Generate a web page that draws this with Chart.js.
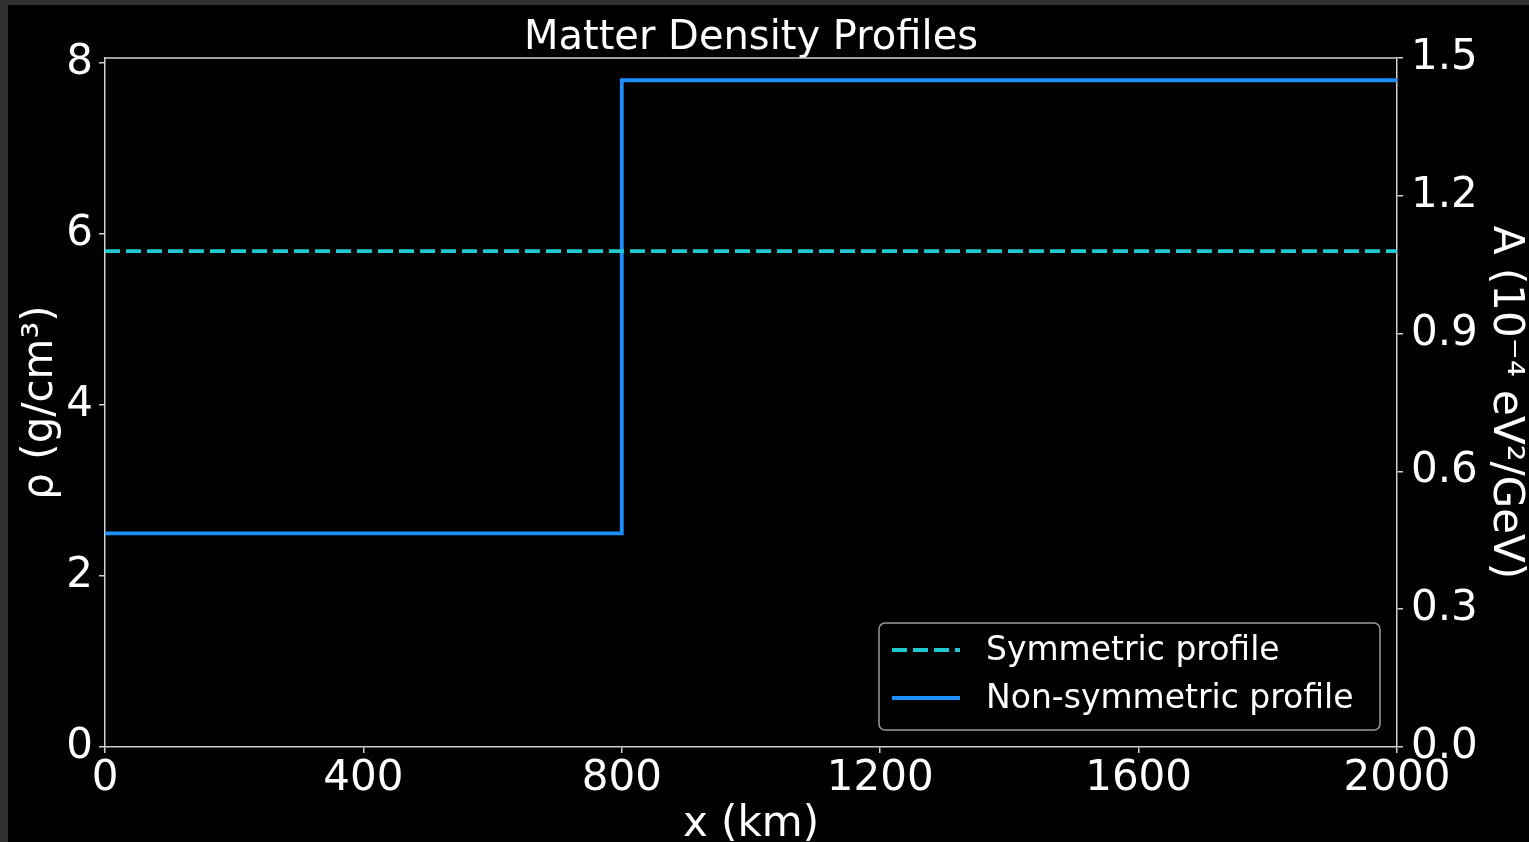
<!DOCTYPE html>
<html>
<head>
<meta charset="utf-8">
<title>Matter Density Profiles</title>
<script src="https://cdn.jsdelivr.net/npm/chart.js@4.4.1/dist/chart.umd.min.js"></script>
<style>
  html, body { margin: 0; padding: 0; background: #303030; overflow: hidden; }
  #wrap { position: absolute; left: 8px; top: 5px; width: 1521px; height: 837px; background: #000; }
</style>
</head>
<body>
<div id="wrap"><canvas id="profiles"></canvas></div>
<script>
// data
const symX = [0, 2000];
const symRho = [5.8, 5.8];
const nonSymX = [0, 800, 800, 2000];
const nonSymRho = [2.5, 2.5, 7.8, 7.8];

const xTicks = [0, 400, 800, 1200, 1600, 2000];
const rhoTicks = [0, 2, 4, 6, 8];
const aTicks = [0, 0.3, 0.6, 0.9, 1.2, 1.5];
const rhoMax = 8.06;   // left axis runs a bit past 8 so that it lines up with A = 1.5
const aMax = 1.5;

const FONT = 'DejaVu Sans';
const TICK_SIZE = 42;
const symColor = '#20c9d0';
const nonSymColor = '#1e8fff';
const spineColor = '#d0d0d0';

function toPoints(xs, ys) {
    return xs.map((x, i) => ({ x: x, y: ys[i] }));
}

function fixedTicks(values) {
    return function (scale) {
        scale.ticks = values.map(v => ({ value: v }));
    };
}

// top spine + legend box drawn inside the plot like matplotlib does
const frameAndLegend = {
    id: 'frameAndLegend',
    afterDraw(chart) {
        const ctx = chart.ctx;
        const area = chart.chartArea;
        ctx.save();
        ctx.strokeStyle = spineColor;
        ctx.lineWidth = 1.5;
        ctx.beginPath();
        ctx.moveTo(area.left, area.top);
        ctx.lineTo(area.right, area.top);
        ctx.stroke();

        const w = 501, h = 107;
        const left = area.right - 17 - w;
        const top = area.bottom - 17 - h;
        ctx.fillStyle = 'rgba(0,0,0,0.8)';
        ctx.strokeStyle = '#9a9a9a';
        ctx.lineWidth = 1.5;
        ctx.beginPath();
        ctx.roundRect(left, top, w, h, 6);
        ctx.fill();
        ctx.stroke();

        ctx.font = '33px "' + FONT + '"';
        ctx.textBaseline = 'middle';
        ctx.fillStyle = '#ffffff';
        chart.data.datasets.forEach((ds, i) => {
            const y = top + 27 + i * 48;
            ctx.strokeStyle = ds.borderColor;
            ctx.lineWidth = ds.borderWidth;
            ctx.setLineDash(ds.borderDash || []);
            ctx.beginPath();
            ctx.moveTo(left + 13, y);
            ctx.lineTo(left + 81, y);
            ctx.stroke();
            ctx.setLineDash([]);
            ctx.fillText(ds.label, left + 107, y + 1);
        });
        ctx.restore();
    }
};

new Chart(document.getElementById('profiles'), {
    type: 'line',
    data: {
        datasets: [{
            label: 'Symmetric profile',
            data: toPoints(symX, symRho),
            borderColor: symColor,
            borderWidth: 3.8,
            borderDash: [15, 6],
            pointRadius: 0,
            yAxisID: 'y'
        }, {
            label: 'Non-symmetric profile',
            data: toPoints(nonSymX, nonSymRho),
            borderColor: nonSymColor,
            borderWidth: 3.8,
            pointRadius: 0,
            yAxisID: 'y'
        }]
    },
    options: {
        responsive: true,
        maintainAspectRatio: false,
        animation: false,
        layout: { padding: 0 },
        plugins: {
            legend: { display: false },
            tooltip: { enabled: false },
            title: {
                display: true,
                fullSize: false,
                text: 'Matter Density Profiles',
                color: '#ffffff',
                font: { family: FONT, size: 40, weight: 'normal', lineHeight: 1 },
                padding: { top: 14, bottom: -1 }
            }
        },
        scales: {
            x: {
                type: 'linear',
                min: 0,
                max: 2000,
                afterBuildTicks: fixedTicks(xTicks),
                afterFit(scale) { scale.height = 95; },
                grid: { drawOnChartArea: false, tickLength: 6, color: spineColor, lineWidth: 1.5 },
                border: { color: spineColor, width: 1.5 },
                ticks: {
                    color: '#ffffff',
                    padding: 1,
                    maxRotation: 0,
                    font: { family: FONT, size: TICK_SIZE },
                    callback: v => String(v)
                },
                title: {
                    display: true,
                    text: 'x (km)',
                    color: '#ffffff',
                    font: { family: FONT, size: TICK_SIZE, lineHeight: 1 },
                    padding: { top: 0, bottom: -4 }
                }
            },
            y: {
                position: 'left',
                min: 0,
                max: rhoMax,
                afterBuildTicks: fixedTicks(rhoTicks),
                afterFit(scale) { scale.width = 97; },
                grid: { drawOnChartArea: false, tickLength: 6, color: spineColor, lineWidth: 1.5 },
                border: { color: spineColor, width: 1.5 },
                ticks: {
                    color: '#ffffff',
                    padding: 6,
                    font: { family: FONT, size: TICK_SIZE },
                    callback: v => String(v)
                },
                title: {
                    display: true,
                    text: 'ρ (g/cm³)',
                    color: '#ffffff',
                    font: { family: FONT, size: TICK_SIZE, lineHeight: 1 },
                    padding: 12
                }
            },
            yA: {
                position: 'right',
                min: 0,
                max: aMax,
                afterBuildTicks: fixedTicks(aTicks),
                afterFit(scale) { scale.width = 132; },
                grid: { drawOnChartArea: false, tickLength: 6, color: spineColor, lineWidth: 1.5 },
                border: { color: spineColor, width: 1.5 },
                ticks: {
                    color: '#ffffff',
                    padding: 8,
                    font: { family: FONT, size: TICK_SIZE },
                    callback: v => v.toFixed(1)
                },
                title: {
                    display: true,
                    text: 'A (10⁻⁴ eV²/GeV)',
                    color: '#ffffff',
                    font: { family: FONT, size: TICK_SIZE, lineHeight: 1 },
                    padding: 3
                }
            }
        }
    },
    plugins: [frameAndLegend]
});
</script>
</body>
</html>
